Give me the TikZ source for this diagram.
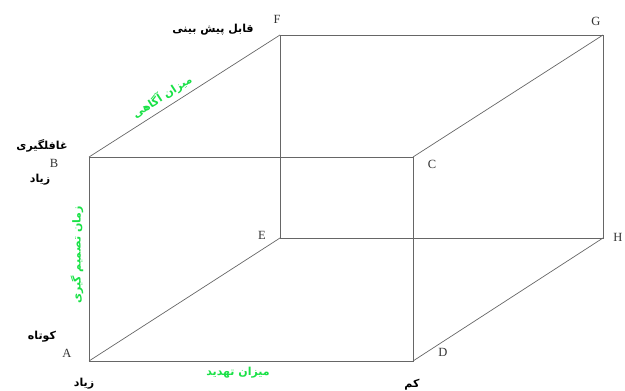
\documentclass[tikz,border=0pt]{standalone}
\usepackage{fontspec}
\setmainfont{Liberation Serif}
\newfontfamily\farsifont[Script=Arabic]{DejaVu Sans}
\TeXXeTstate=1
\usetikzlibrary{positioning}
\definecolor{axisgreen}{RGB}{25,225,70}
\newcommand{\fa}[1]{{\farsifont\bfseries\beginR #1\endR}}

\begin{document}
\begin{tikzpicture}[
    x=1pt, y=-1pt,
    edge/.style={draw=black!60, line width=0.7pt},
    corner/.style={font=\fontsize{12.5}{13}\selectfont, text=black!80, inner sep=0pt},
    fatext/.style={font=\fontsize{11}{12}\selectfont, inner sep=0pt},
    axislbl/.style={fatext, text=axisgreen}
]
\useasboundingbox (0,0) rectangle (625,391);

% cube corners
\coordinate (A) at (89,361);
\coordinate (B) at (89,157);
\coordinate (C) at (413,157);
\coordinate (D) at (413,361);
\coordinate (E) at (280,238);
\coordinate (F) at (280,35);
\coordinate (G) at (603,35);
\coordinate (H) at (603,238);

\draw[edge] (A) -- (B) -- (C) -- (D) -- cycle;
\draw[edge] (E) -- (F) -- (G) -- (H) -- cycle;
\draw[edge] (A) -- (E);
\draw[edge] (B) -- (F);
\draw[edge] (C) -- (G);
\draw[edge] (D) -- (H);

% corner letters
\node[corner] (lA) at (67,353) {A};
\node[corner] (lB) at (54,163) {B};
\node[corner] (lC) at (432,164) {C};
\node[corner] (lD) at (443,352) {D};
\node[corner] (lE) at (262,235) {E};
\node[corner] (lF) at (277,19) {F};
\node[corner] (lG) at (596,21) {G};
\node[corner] (lH) at (618,237) {H};

% end labels
\node[fatext] (predict) at (213,30) {\fa{قابل پیش بینی}};
\node[fatext] (surprise) at (42,146) {\fa{غافلگیری}};
\node[fatext] (highB) at (40,180) {\fa{زیاد}};
\node[fatext] (short) at (42,337) {\fa{کوتاه}};
\node[fatext] (highA) at (84,384) {\fa{زیاد}};
\node[fatext] (low) at (412,385) {\fa{کم}};

% axis names
\node[axislbl, rotate=33] (aware) at (162,97) {\fa{میزان آگاهی}};
\node[axislbl, rotate=90] (decide) at (77,255) {\fa{زمان تصمیم گیری}};
\node[axislbl] (threat) at (238,373) {\fa{میزان تهدید}};
\end{tikzpicture}
\end{document}
